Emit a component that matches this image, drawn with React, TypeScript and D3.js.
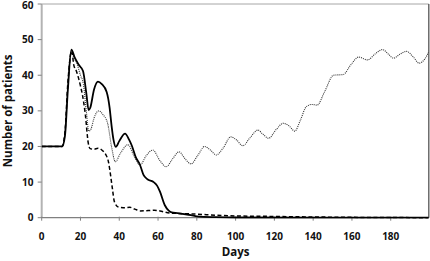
import React from "react";
import * as d3 from "d3";

const xTicks = [0, 20, 40, 60, 80, 100, 120, 140, 160, 180];
const yTicks = [0, 10, 20, 30, 40, 50, 60];

const solidDays = [0, 10.5, 12, 13.5, 15.3, 17, 19, 21.3, 23, 24.2, 25, 27, 29, 31, 33.5, 35, 36, 37, 38.2, 40, 43, 45, 46.5, 48.5, 50.7, 52.5, 54.5, 57.5, 59.5, 61, 63.5, 65.5, 67, 70, 75, 80, 90, 100, 200];
const solidValues = [20, 20, 23, 36, 47.2, 45, 43, 41.2, 35, 30.2, 30.8, 36, 38.2, 37.5, 35.3, 31, 26, 22, 19.9, 21.5, 23.6, 22, 20.2, 17, 14.8, 12, 10.8, 10.1, 9, 7.3, 3.5, 2, 1.5, 1.3, 0.9, 0.4, 0.15, 0.05, 0];

const dashedDays = [0, 10.5, 12, 13.5, 15.5, 16.5, 18, 20, 21, 22.5, 24, 25, 27, 29, 31, 33, 34.5, 35.5, 36.5, 37.5, 39.5, 42, 45.5, 48, 51, 55, 58, 61, 65, 70, 80, 90, 100, 120, 140, 160, 200];
const dashedValues = [20, 20, 24, 38, 46.8, 43, 41, 37, 34.5, 29, 21, 19.4, 19.2, 19.5, 19, 17.8, 15.5, 12, 8, 4.5, 3.0, 2.8, 2.9, 2.4, 1.9, 2.0, 2.1, 1.9, 1.4, 1.2, 1.0, 0.7, 0.5, 0.35, 0.2, 0.1, 0];

const dottedDays = [0, 10.5, 12, 13.5, 15.2, 16.5, 18, 20, 21.5, 23, 24.3, 25.5, 27, 29.5, 31.5, 34, 36, 38, 40.5, 44.5, 47.5, 50.7, 54, 57.3, 61, 64.2, 67.5, 70.8, 74, 77, 80.5, 84, 87, 90, 93.5, 97.5, 100.5, 103.7, 107.5, 111.5, 114, 117, 121, 124.6, 127.5, 130.5, 133.5, 136.5, 139.5, 142, 146, 150.5, 155.5, 159.5, 163.5, 168, 172, 175.8, 179, 181.5, 185, 188.2, 191.5, 194.7, 197.5, 200];
const dottedValues = [20, 20, 24, 37, 46.5, 45, 43.5, 40, 37.5, 30, 24.3, 25, 28, 30, 29, 26.5, 20, 15.7, 18, 20.5, 17.5, 14.8, 17.5, 19, 16, 14.3, 16.5, 18.5, 16.5, 15.1, 17.5, 20, 19, 17.6, 19.5, 22.7, 21.8, 20.2, 22.5, 24.6, 23.5, 22.3, 24.8, 26.5, 25.8, 24.3, 27.5, 31.2, 31.8, 31.6, 35.5, 40, 40.2, 43, 45.1, 44.3, 46, 47.2, 45.8, 44.8, 46, 46.7, 45.2, 43.4, 44.5, 47];

const W = 430;
const H = 261;
const left = 41.7;
const right = 429.5;
const top = 4;
const bottom = 217.7;

const font = "'Open Sans', 'Noto Sans', sans-serif";

export default function App() {
  const x = d3.scaleLinear().domain([0, 200]).range([left, right]);
  const y = d3.scaleLinear().domain([0, 60]).range([bottom, top]);
  const line = d3
    .line<[number, number]>()
    .x((d) => x(d[0]))
    .y((d) => y(d[1]))
    .curve(d3.curveMonotoneX);
  const zip = (a: number[], b: number[]) => a.map((v, i) => [v, b[i]] as [number, number]);

  return (
    <svg width={W} height={H} style={{ position: "absolute", left: 0, top: 0, background: "#fff" }}>
      <defs>
        <clipPath id="plot">
          <rect x={left} y={top - 2} width={right - left - 1} height={bottom - top + 3} />
        </clipPath>
      </defs>
      {/* plot borders */}
      <line x1={left} x2={428.8} y1={top} y2={top} stroke="#a6a6a6" strokeWidth={1} />
      <line x1={428.8} x2={428.8} y1={top} y2={bottom} stroke="#555" strokeWidth={1.3} />
      {/* y axis */}
      <line x1={left} x2={left} y1={top} y2={bottom} stroke="#b3b3b3" strokeWidth={2} />
      {yTicks.map((t) => (
        <g key={t}>
          <line x1={left - 4} x2={left} y1={y(t)} y2={y(t)} stroke="#808080" strokeWidth={1} />
          <text x={33.5} y={Math.max(y(t), 5)} dy="0.35em" textAnchor="end" fontFamily={font} fontWeight={700} fontSize={10} fill="#111">
            {t}
          </text>
        </g>
      ))}
      {/* x axis */}
      <line x1={left} x2={428.8} y1={bottom} y2={bottom} stroke="#808080" strokeWidth={1.2} />
      {xTicks.map((t) => (
        <g key={t}>
          <line x1={x(t)} x2={x(t)} y1={bottom - 1} y2={bottom + 3} stroke="#808080" strokeWidth={1} />
          <text x={x(t)} y={239.5} textAnchor="middle" fontFamily={font} fontWeight={700} fontSize={10} fill="#111">
            {t}
          </text>
        </g>
      ))}
      <g clipPath="url(#plot)" fill="none">
        <path d={line(zip(dottedDays, dottedValues)) || ""} stroke="#333" strokeWidth={1.1} strokeDasharray="1,1" />
        <path d={line(zip(dashedDays, dashedValues)) || ""} stroke="#000" strokeWidth={1.5} strokeDasharray="4,2.5" />
        <path d={line(zip(solidDays, solidValues)) || ""} stroke="#000" strokeWidth={1.8} />
      </g>
      <text x={x(100)} y={256} textAnchor="middle" fontFamily={font} fontWeight={700} fontSize={11.5} fill="#111">
        Days
      </text>
      <text
        transform={`translate(12, ${(top + bottom) / 2}) rotate(-90)`}
        textAnchor="middle"
        fontFamily={font}
        fontWeight={700}
        fontSize={11.5}
        fill="#111"
      >
        Number of patients
      </text>
    </svg>
  );
}
